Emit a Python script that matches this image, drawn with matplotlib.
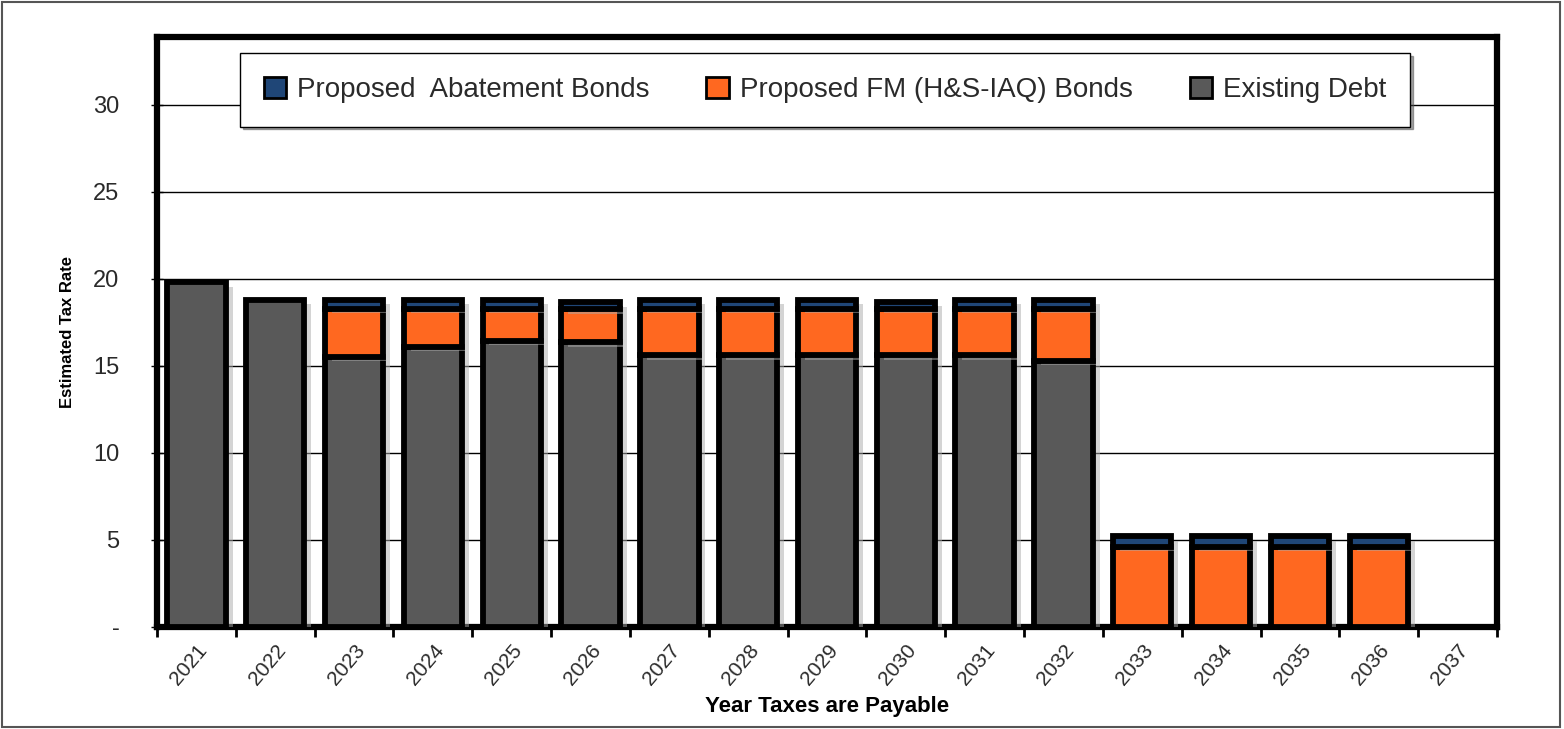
import matplotlib
matplotlib.use("Agg")
import matplotlib.pyplot as plt
import matplotlib.patheffects as pe
from matplotlib.patches import Rectangle
import numpy as np

plt.rcParams['font.family'] = ['Liberation Sans', 'DejaVu Sans']
plt.rcParams['text.color'] = '#2a2a2a'
plt.rcParams['xtick.labelcolor'] = '#2a2a2a'
plt.rcParams['ytick.labelcolor'] = '#2a2a2a'

years = ['2021', '2022', '2023', '2024', '2025', '2026', '2027', '2028', '2029',
         '2030', '2031', '2032', '2033', '2034', '2035', '2036', '2037']
existing = [19.8, 18.8, 15.5, 16.1, 16.45, 16.35, 15.6, 15.6, 15.6, 15.6, 15.6, 15.3,
            0, 0, 0, 0, 0]
fm_bonds = [0, 0, 2.8, 2.2, 1.85, 1.9, 2.7, 2.7, 2.7, 2.7, 2.7, 3.0,
            4.6, 4.6, 4.6, 4.6, 0]
abatement = [0, 0, 0.5, 0.5, 0.5, 0.4, 0.5, 0.5, 0.5, 0.4, 0.5, 0.5,
             0.6, 0.6, 0.6, 0.6, 0]
yticks = [0, 5, 10, 15, 20, 25, 30]
yticklabels = ['-', '5', '10', '15', '20', '25', '30']

c_exist = '#595959'
c_fm = '#FF6820'
c_abat = '#1F4677'

fig = plt.figure(figsize=(15.64, 7.29), dpi=100)
ax = fig.add_axes([157/1564, 1 - 627/729, (1497-157)/1564, (627-37)/729])

x = np.arange(len(years))
w = 0.74
shadow = [pe.SimplePatchShadow(offset=(5, -3), shadow_rgbFace='#aaaaaa', alpha=0.5), pe.Normal()]
ex = np.array(existing)
fm = np.array(fm_bonds)
ab = np.array(abatement)
lw = 4.2
mask = ex > 0
b1 = ax.bar(x[mask], ex[mask], w, color=c_exist, edgecolor='black', linewidth=lw,
            label='Existing Debt', zorder=3)
mask2 = fm > 0
b2 = ax.bar(x[mask2], fm[mask2], w, bottom=ex[mask2], color=c_fm, edgecolor='black',
            linewidth=lw, label='Proposed FM (H&S-IAQ) Bonds', zorder=3)
mask3 = ab > 0
b3 = ax.bar(x[mask3], ab[mask3], w, bottom=(ex + fm)[mask3], color=c_abat, edgecolor='black',
            linewidth=lw, label='Proposed  Abatement Bonds', zorder=3)
for bars in (b1, b2, b3):
    for p in bars:
        p.set_path_effects(shadow)

ax.set_xlim(-0.5, len(years) - 0.5)
ax.set_ylim(0, 33.9)
ax.set_yticks(yticks)
ax.set_yticklabels(yticklabels, fontsize=17)
ax.yaxis.grid(True, color='black', linewidth=1.0, zorder=0)
ax.set_axisbelow(True)
ax.tick_params(axis='y', length=8, width=1, direction='inout', pad=23)

ax.set_xticks(x)
ax.set_xticklabels(years, rotation=50, ha='right', rotation_mode='anchor', fontsize=15)
ax.set_xticks(np.arange(len(years) + 1) - 0.5, minor=True)
ax.tick_params(axis='x', which='major', length=0, pad=10)
ax.tick_params(axis='x', which='minor', length=7, width=2, direction='out')

for s in ax.spines.values():
    s.set_linewidth(4.5)

ax.set_ylabel('Estimated Tax Rate', fontsize=12, fontweight='bold', labelpad=13)
ax.set_xlabel('Year Taxes are Payable', fontsize=16, fontweight='bold', labelpad=5)

handles = [b3, b2, b1]
leg = ax.legend(handles=handles, labels=[h.get_label() for h in handles], ncol=3,
                loc='upper left', bbox_to_anchor=((240-157)/1340, 1 - (53-37)/590),
                fontsize=20, frameon=True, fancybox=False, shadow=True,
                handlelength=0.8, handleheight=0.8, handletextpad=0.4,
                columnspacing=2.05, borderpad=0.85, borderaxespad=0)
leg.get_frame().set_edgecolor('black')
leg.get_frame().set_linewidth(1)
for h in leg.legend_handles:
    h.set_linewidth(2)
    h.set_path_effects([])

fig.patches.append(Rectangle((2/1564, 2/729), 1558/1564, 725/729, transform=fig.transFigure,
                             fill=False, edgecolor='#555555', linewidth=1.5))

fig.savefig('out.png', dpi=100)
